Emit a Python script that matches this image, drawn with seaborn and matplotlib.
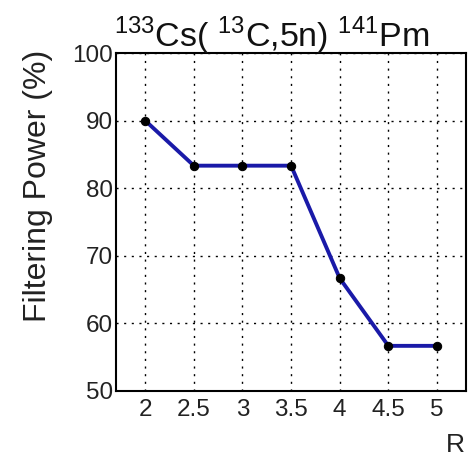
import matplotlib
matplotlib.use("Agg")
import matplotlib.pyplot as plt
import seaborn as sns
import pandas as pd

R = [2, 2.5, 3, 3.5, 4, 4.5, 5]
filtering_power = [90.0, 83.33, 83.33, 83.33, 66.67, 56.67, 56.67]
xticks = [2, 2.5, 3, 3.5, 4, 4.5, 5]
xtick_labels = ["2", "2.5", "3", "3.5", "4", "4.5", "5"]
yticks = [50, 60, 70, 80, 90, 100]

sns.set_theme(style="white")
plt.rcParams['font.family'] = ['Liberation Sans', 'DejaVu Sans']
plt.rcParams['mathtext.fontset'] = 'custom'
plt.rcParams['mathtext.rm'] = 'Liberation Sans'

df = pd.DataFrame({"R": R, "FP": filtering_power})

fig = plt.figure(figsize=(4.68, 4.61), dpi=100)
ax = fig.add_axes([0.248, 0.152, 0.748, 0.733])
sns.lineplot(data=df, x="R", y="FP", ax=ax, color="#1a1aa8", linewidth=2.8,
             marker="o", markersize=6, markerfacecolor="black",
             markeredgecolor="black", zorder=3)

ax.set_xlim(1.7, 5.3)
ax.set_ylim(50, 100)
ax.set_xticks(xticks)
ax.set_xticklabels(xtick_labels)
ax.set_yticks(yticks)
ax.grid(True, color="black", linestyle=(0, (1.5, 4)), linewidth=1.0)
ax.tick_params(direction="in", length=6, width=1.2, labelsize=17.5, colors="#222222",
               pad=6)
ax.tick_params(axis="y", pad=2)
for s in ax.spines.values():
    s.set_color("black")
    s.set_linewidth(1.5)

ax.set_xlabel("")
ax.set_ylabel("")
fig.text(0.082, 0.597, "Filtering Power (%)", fontsize=23, color="#222222",
         rotation=90, ha="center", va="center")
fig.text(0.972, 0.008, "R", fontsize=19, color="#222222", ha="center", va="bottom")
fig.text(0.581, 0.922, r"$^{133}$Cs( $^{13}$C,5n) $^{141}$Pm", fontsize=24.5,
         color="#111111", ha="center", va="center")

fig.savefig("out.png", dpi=100)
